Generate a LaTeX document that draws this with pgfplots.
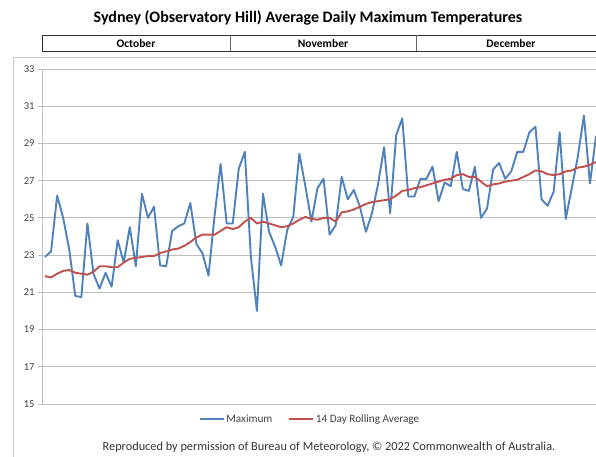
\documentclass[border=0pt]{standalone}
\usepackage{pgfplots}
\pgfplotsset{compat=1.18}
\usepackage{fontspec}
\setmainfont{Carlito}
\definecolor{exblue}{HTML}{4F81BD}
\definecolor{exred}{HTML}{C0504D}
\definecolor{gridc}{HTML}{BEBEBE}
\definecolor{txt}{HTML}{404040}
\begin{document}
\begin{tikzpicture}[x=1pt,y=1pt]
\clip (0,0) rectangle (596,457);
\path (0,0) rectangle (596,457);
% chart border
\draw[gray!45, line width=0.8pt] (13,-2) -- (13,400) -- (600,400);
% title
\node[font=\fontsize{16}{18}\selectfont\bfseries, text=black] at (308,439) {Sydney (Observatory Hill) Average Daily Maximum Temperatures};
% month header
\draw[black!80, line width=0.8pt] (600,422) -- (42,422) -- (42,405.5) -- (600,405.5);
\draw[black!60, line width=0.6pt] (230,422) -- (230,405.5);
\draw[black!60, line width=0.6pt] (416,422) -- (416,405.5);
\node[font=\fontsize{11.5}{13}\selectfont\bfseries] at (136,413.5) {October};
\node[font=\fontsize{11.5}{13}\selectfont\bfseries] at (323,413.5) {November};
\node[font=\fontsize{11.5}{13}\selectfont\bfseries] at (511,413.5) {December};
\begin{axis}[
  at={(42pt,53pt)}, anchor=south west,
  width=554pt, height=335pt, scale only axis,
  xmin=0.5, xmax=92, ymin=15, ymax=33,
  axis x line=none,
  axis y line=left,
  axis line style={-, draw=gridc, line width=0.8pt},
  ytick={15,17,...,33},
  ymajorgrids,
  grid style={gridc, line width=0.8pt},
  tick style={gridc, line width=0.8pt},
  tick align=outside,
  major tick length=4pt,
  yticklabel style={font=\fontsize{10.5}{12}\selectfont, text=txt},
  /pgf/number format/assume math mode=true,
  clip=true,
  legend style={at={(310pt-42pt,38pt-53pt)}, anchor=center, draw=none, fill=none,
    legend columns=2, font=\fontsize{11.2}{13}\selectfont, text=txt,
    /tikz/every even column/.append style={column sep=14pt}},
  legend cell align=left,
  legend image code/.code={\draw[#1, line width=1.5pt] (0pt,0pt) -- (24pt,0pt);},
]
\addplot[exblue, line width=1.9pt, line join=round] coordinates {
(1,22.9)(2,23.2)(3,26.2)(4,25.0)(5,23.3)(6,20.8)(7,20.75)(8,24.7)(9,22.0)(10,21.2)
(11,22.05)(12,21.3)(13,23.8)(14,22.6)(15,24.5)(16,22.4)(17,26.3)(18,25.0)(19,25.6)(20,22.45)
(21,22.4)(22,24.3)(23,24.55)(24,24.7)(25,25.8)(26,23.6)(27,23.1)(28,21.9)(29,25.1)(30,27.9)
(31,24.7)(32,24.7)(33,27.65)(34,28.55)(35,22.9)(36,20.0)(37,26.3)(38,24.25)(39,23.45)(40,22.45)
(41,24.35)(42,25.05)(43,28.45)(44,26.7)(45,24.8)(46,26.6)(47,27.1)(48,24.1)(49,24.6)(50,27.2)
(51,26.0)(52,26.5)(53,25.6)(54,24.25)(55,25.25)(56,26.8)(57,28.8)(58,25.25)(59,29.45)(60,30.35)
(61,26.15)(62,26.15)(63,27.1)(64,27.1)(65,27.75)(66,25.9)(67,26.9)(68,26.7)(69,28.55)(70,26.55)
(71,26.45)(72,27.75)(73,25.0)(74,25.5)(75,27.6)(76,27.95)(77,27.1)(78,27.5)(79,28.55)(80,28.55)
(81,29.6)(82,29.9)(83,26.0)(84,25.65)(85,26.4)(86,29.6)(87,24.95)(88,26.6)(89,28.3)(90,30.5)
(91,26.85)(92,29.4)
};
\addlegendentry{Maximum}
\addplot[exred, line width=1.9pt, line join=round] coordinates {
(1,21.87)(2,21.8)(3,22.0)(4,22.15)(5,22.2)(6,22.05)(7,22.0)(8,21.95)(9,22.1)(10,22.4)
(11,22.4)(12,22.35)(13,22.35)(14,22.6)(15,22.8)(16,22.85)(17,22.9)(18,22.95)(19,22.95)(20,23.1)
(21,23.2)(22,23.3)(23,23.35)(24,23.5)(25,23.7)(26,23.95)(27,24.1)(28,24.1)(29,24.1)(30,24.3)
(31,24.5)(32,24.4)(33,24.5)(34,24.8)(35,25.0)(36,24.7)(37,24.8)(38,24.7)(39,24.6)(40,24.5)
(41,24.55)(42,24.7)(43,24.9)(44,25.05)(45,24.95)(46,24.9)(47,25.0)(48,25.0)(49,24.8)(50,25.3)
(51,25.35)(52,25.45)(53,25.6)(54,25.75)(55,25.85)(56,25.9)(57,25.95)(58,26.0)(59,26.2)(60,26.45)
(61,26.5)(62,26.6)(63,26.65)(64,26.75)(65,26.85)(66,26.95)(67,27.05)(68,27.1)(69,27.3)(70,27.35)
(71,27.2)(72,27.2)(73,26.95)(74,26.7)(75,26.8)(76,26.85)(77,26.95)(78,27.0)(79,27.05)(80,27.2)
(81,27.35)(82,27.55)(83,27.5)(84,27.35)(85,27.3)(86,27.35)(87,27.5)(88,27.55)(89,27.7)(90,27.75)
(91,27.85)(92,28.0)
};
\addlegendentry{14 Day Rolling Average}
\end{axis}
\node[font=\fontsize{12.3}{14}\selectfont, text=txt!80!black] at (329,10) {Reproduced by permission of Bureau of Meteorology, © 2022 Commonwealth of Australia.};
\end{tikzpicture}
\end{document}
